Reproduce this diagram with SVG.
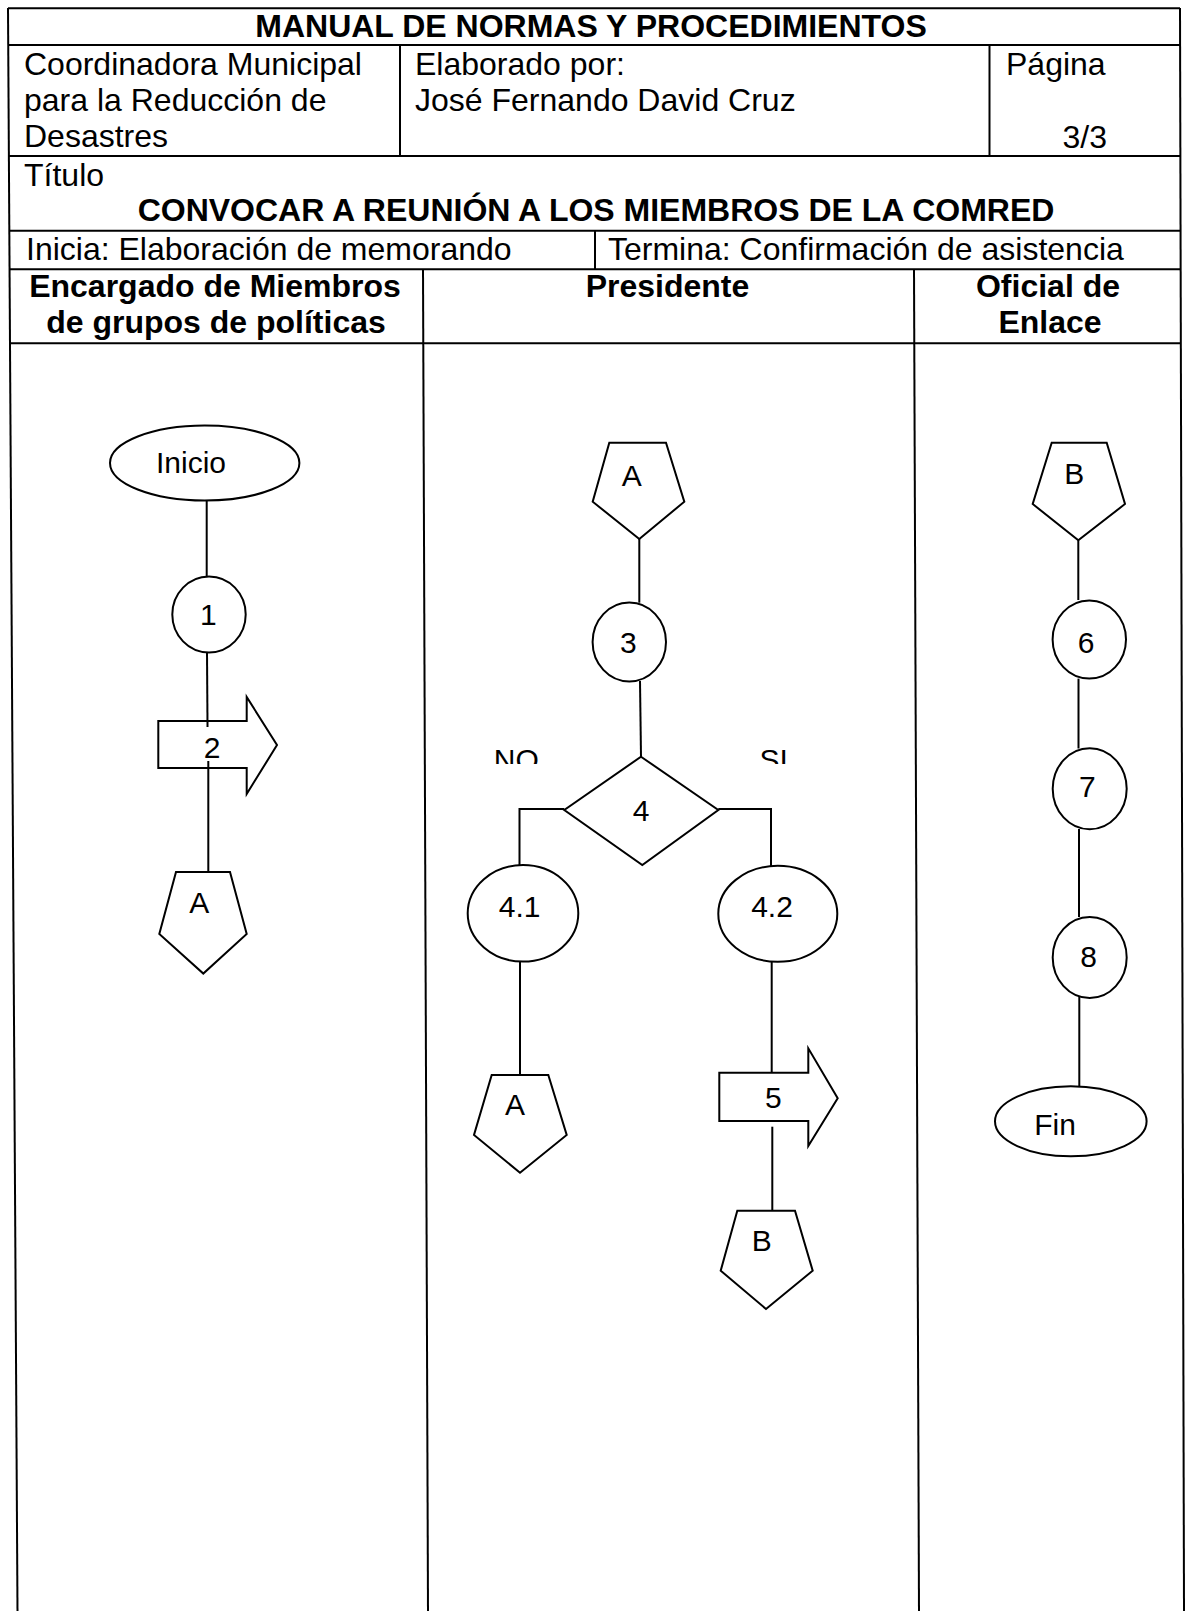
<svg xmlns="http://www.w3.org/2000/svg" width="1185" height="1611" viewBox="0 0 1185 1611">
<style>
.bg{fill:#fff}
.ln{stroke:#000;stroke-width:2;fill:none}
.sh{stroke:#000;stroke-width:2;fill:#fff}
.t{font-family:"Liberation Sans",Arial,sans-serif;font-size:32px;fill:#000}
.b{font-weight:bold}
.m{text-anchor:middle}
.e{text-anchor:end}
.l{font-family:"Liberation Sans",Arial,sans-serif;font-size:30px;fill:#000;text-anchor:middle}
</style>
<defs>
<clipPath id="clipNoSi"><rect x="400" y="730" width="500" height="34"/></clipPath>
</defs>
<rect class="bg" x="0" y="0" width="1185" height="1611"/>
<g id="table">
<line class="ln" x1="8" y1="8.3" x2="1180" y2="8.3"/>
<line class="ln" x1="8" y1="45" x2="1180" y2="45"/>
<line class="ln" x1="9" y1="156" x2="1180" y2="156"/>
<line class="ln" x1="9" y1="230.7" x2="1181" y2="230.7"/>
<line class="ln" x1="9.5" y1="269.3" x2="1181" y2="269.3"/>
<line class="ln" x1="10" y1="343.3" x2="1181" y2="343.3"/>
<line class="ln" x1="8" y1="8" x2="17.5" y2="1611"/>
<line class="ln" x1="1180" y1="8" x2="1184" y2="1611"/>
<line class="ln" x1="400" y1="45" x2="400" y2="156"/>
<line class="ln" x1="989.5" y1="45" x2="989.5" y2="156"/>
<line class="ln" x1="595" y1="230.7" x2="595" y2="269.3"/>
<line class="ln" x1="423" y1="269.3" x2="428" y2="1611"/>
<line class="ln" x1="914" y1="269.3" x2="919" y2="1611"/>
<text class="t b m" x="591" y="37">MANUAL DE NORMAS Y PROCEDIMIENTOS</text>
<text class="t" x="24" y="75">Coordinadora Municipal</text>
<text class="t" x="24" y="111">para la Reducción de</text>
<text class="t" x="24" y="147">Desastres</text>
<text class="t" x="415" y="75">Elaborado por:</text>
<text class="t" x="415" y="111">José Fernando David Cruz</text>
<text class="t" x="1006" y="75">Página</text>
<text class="t e" x="1107" y="148">3/3</text>
<text class="t" x="24" y="186">Título</text>
<text class="t b m" x="596" y="221">CONVOCAR A REUNIÓN A LOS MIEMBROS DE LA COMRED</text>
<text class="t" x="26" y="260">Inicia: Elaboración de memorando</text>
<text class="t" x="608" y="260">Termina: Confirmación de asistencia</text>
<text class="t b m" x="215" y="297">Encargado de Miembros</text>
<text class="t b m" x="216" y="333">de grupos de políticas</text>
<text class="t b m" x="667.5" y="297">Presidente</text>
<text class="t b m" x="1048" y="297">Oficial de</text>
<text class="t b m" x="1050" y="333">Enlace</text>
</g>
<g id="connectors">
<line class="ln" x1="206.7" y1="500.5" x2="206.7" y2="576"/>
<line class="ln" x1="207" y1="652" x2="207.5" y2="726"/>
<line class="ln" x1="208.3" y1="761" x2="208.3" y2="872"/>
<line class="ln" x1="639.3" y1="539" x2="639.3" y2="602.7"/>
<line class="ln" x1="640" y1="681" x2="641" y2="757"/>
<polyline class="ln" points="564.3,809 519.5,809 519.5,865"/>
<polyline class="ln" points="718.3,809 771,809 771,866"/>
<line class="ln" x1="520" y1="961" x2="520" y2="1075"/>
<line class="ln" x1="771.7" y1="961" x2="771.7" y2="1072.7"/>
<line class="ln" x1="772.3" y1="1126.7" x2="772.3" y2="1210.7"/>
<line class="ln" x1="1078.3" y1="540.3" x2="1078.3" y2="600"/>
<line class="ln" x1="1078.5" y1="678.6" x2="1078.5" y2="748.5"/>
<line class="ln" x1="1079" y1="829" x2="1079" y2="917"/>
<line class="ln" x1="1079.3" y1="997" x2="1079.3" y2="1086.4"/>
</g>
<g id="n-inicio"><ellipse class="sh" cx="204.7" cy="463" rx="94.7" ry="37.5"/><text class="l" x="191" y="473">Inicio</text></g>
<g id="n-1"><ellipse class="sh" cx="209" cy="614.5" rx="36.7" ry="38"/><text class="l" x="208.3" y="625">1</text></g>
<g id="n-2"><polygon class="sh" points="158.3,721 246.7,721 246.7,697 277,745 246.7,794 246.7,768 158.3,768"/><line class="ln" x1="207.5" y1="721" x2="207.5" y2="727"/><line class="ln" x1="208.3" y1="761" x2="208.3" y2="768"/><text class="l" x="212" y="758">2</text></g>
<g id="n-A1"><polygon class="sh" points="176,872 230,872 246.7,934 203.3,973.6 159.3,934"/><text class="l" x="199.3" y="913">A</text></g>
<g id="n-A2"><polygon class="sh" points="609.3,442.7 666,442.7 684.3,501.7 639.3,539 592.7,501.7"/><text class="l" x="631.7" y="486">A</text></g>
<g id="n-3"><ellipse class="sh" cx="629.3" cy="642" rx="36.7" ry="39.5"/><text class="l" x="628.3" y="653">3</text></g>
<g id="n-4"><polygon class="sh" points="641,756.7 718.3,810 642.3,865 564.3,810"/><text class="l" x="641" y="821">4</text></g>
<g id="lbl-no-si" clip-path="url(#clipNoSi)"><text class="l" x="516.3" y="770">NO</text><text class="l" x="773.7" y="770">SI</text></g>
<g id="n-4-1"><ellipse class="sh" cx="523" cy="913.3" rx="55.3" ry="48.3"/><text class="l" x="519.7" y="917">4.1</text></g>
<g id="n-4-2"><ellipse class="sh" cx="777.8" cy="913.8" rx="59.5" ry="48"/><text class="l" x="772" y="917">4.2</text></g>
<g id="n-A3"><polygon class="sh" points="491.7,1075 548.3,1075 566.7,1135 520,1172.7 474,1135"/><text class="l" x="515" y="1115">A</text></g>
<g id="n-5"><polygon class="sh" points="719.3,1072.7 808.3,1072.7 808.3,1048.3 837.7,1098.3 808.3,1146 808.3,1121 719.3,1121"/><text class="l" x="773.3" y="1108">5</text></g>
<g id="n-B1"><polygon class="sh" points="737.3,1210.7 795,1210.7 812.7,1270.7 766,1309 720.7,1270.7"/><text class="l" x="761.7" y="1251">B</text></g>
<g id="n-B2"><polygon class="sh" points="1051.7,442.7 1106.7,442.7 1125,504 1078.3,540.3 1032.7,504"/><text class="l" x="1074.3" y="484">B</text></g>
<g id="n-6"><ellipse class="sh" cx="1089.3" cy="639.5" rx="36.7" ry="39"/><text class="l" x="1086" y="653">6</text></g>
<g id="n-7"><ellipse class="sh" cx="1089.7" cy="788.8" rx="37" ry="40.5"/><text class="l" x="1087.3" y="797">7</text></g>
<g id="n-8"><ellipse class="sh" cx="1089.7" cy="957.5" rx="37" ry="40.5"/><text class="l" x="1088.7" y="967">8</text></g>
<g id="n-fin"><ellipse class="sh" cx="1070.8" cy="1121.3" rx="75.8" ry="35"/><text class="l" x="1055" y="1135">Fin</text></g>
</svg>
